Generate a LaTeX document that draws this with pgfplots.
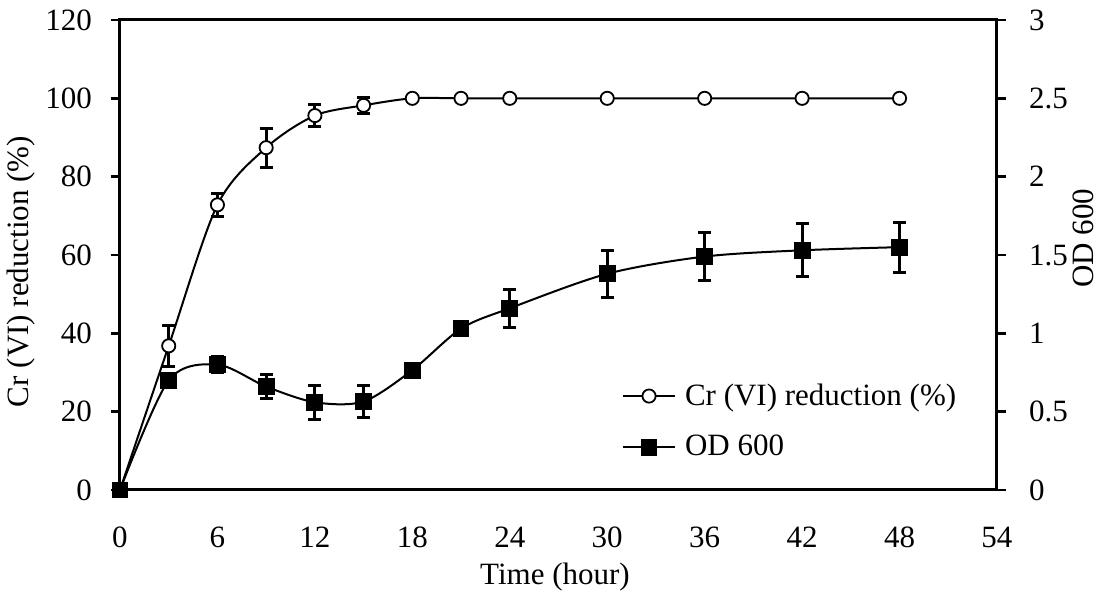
\documentclass[border=0pt]{standalone}
\usepackage{pgfplots}
\pgfplotsset{compat=1.18}
\usepackage{pgfplotstable}
\usepackage{fontspec}
\setmainfont{Liberation Serif}

% time (h), Cr(VI) reduction (%), standard deviation
\pgfplotstableread{
t   cr     err
0   0      0
3   36.8   5.3
6   72.8   3.0
9   87.4   5.0
12  95.6   2.8
15  98.2   2.0
18  100    0
21  100    0
24  100    0
30  100    0
36  100    0
42  100    0
48  100    0
}\crdata

% time (h), OD 600, standard deviation
\pgfplotstableread{
t   od     err
0   0      0
3   0.70   0.03
6   0.80   0.05
9   0.66   0.075
12  0.56   0.11
15  0.565  0.10
18  0.765  0.02
21  1.03   0.02
24  1.16   0.12
30  1.38   0.15
36  1.49   0.155
42  1.53   0.17
48  1.55   0.16
}\oddata

\newcommand{\chartfont}{\fontsize{15.5}{18}\selectfont}

\pgfplotsset{
  dualstyle/.style={
    scale only axis,
    width=438.5pt, height=235pt,
    xmin=0, xmax=54,
    at={(60pt,51.5pt)}, anchor=south west,
    axis line style={line width=1.5pt},
    major tick length=4.5pt,
    every tick/.style={line width=1.2pt, black},
    tick align=outside,
    tick label style={font=\chartfont},
    label style={font=\chartfont},
    /pgf/number format/assume math mode=true,
  },
  errstyle/.style={
    error bars/y dir=both,
    error bars/y explicit,
    error bars/error mark=|,
    error bars/error mark options={line width=1.5pt, mark size=3.2pt, black},
    error bars/error bar style={line width=1.5pt, black},
  },
}

\begin{document}
\begin{tikzpicture}
\useasboundingbox (0,0) rectangle (552.5pt,296.5pt);

% left axis: Cr(VI) reduction
\begin{axis}[
  dualstyle,
  ymin=0, ymax=120,
  xtick={0,6,...,54},
  ytick={0,20,...,120},
  xtick pos=bottom, ytick pos=left,
  xtick style={draw=none},
  xlabel={Time (hour)},
  ylabel={Cr (VI) reduction (\%)},
  xlabel style={at={(axis description cs:0.496,-0.185)}, anchor=center},
  ylabel style={at={(axis description cs:-0.113,0.465)}, anchor=center},
  xticklabel style={yshift=-10.5pt},
  yticklabel style={xshift=-6pt},
]
\addplot[black, line width=1pt, smooth, tension=0.5,
  mark=*, mark size=3.3pt, mark options={fill=white, line width=0.9pt},
  errstyle]
  table[x=t, y=cr, y error=err] {\crdata};
\end{axis}

% right axis: OD 600
\begin{axis}[
  dualstyle,
  ymin=0, ymax=3,
  ytick={0,0.5,...,3},
  axis x line=none,
  axis y line*=right,
  ytick pos=right,
  ylabel={OD 600},
  ylabel style={at={(axis description cs:1.099,0.536)}, anchor=center, rotate=0},
  yticklabel style={xshift=8pt},
  legend style={draw=none, fill=none, font=\chartfont,
    at={(axis description cs:0.572,0.146)}, anchor=west,
    row sep=9.5pt, inner sep=0pt},
  legend cell align=left,
  legend image code/.code={
    \draw[line width=1pt] (0pt,0pt) -- (26pt,0pt);
    \draw[#1, mark repeat=1] plot coordinates {(13pt,0pt)};
    \path (28.5pt,0pt);
  },
]
\addlegendimage{black, line width=1pt, mark=*, mark size=3.3pt,
  mark options={fill=white, line width=0.9pt}}
\addlegendentry{Cr (VI) reduction (\%)}
\addplot[black, line width=1pt, smooth, tension=0.5,
  mark=square*, mark size=3.7pt, mark options={fill=black},
  errstyle]
  table[x=t, y=od, y error=err] {\oddata};
\addlegendentry{OD 600}
\end{axis}
\end{tikzpicture}
\end{document}
